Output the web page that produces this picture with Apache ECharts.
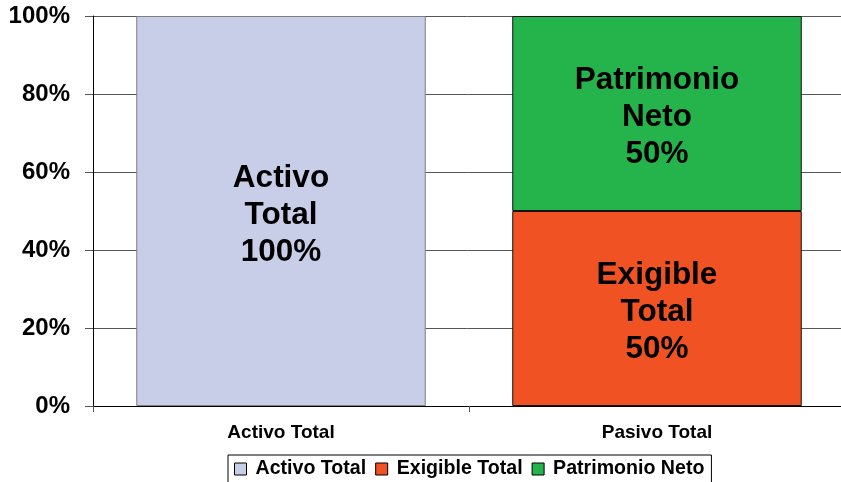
<!DOCTYPE html>
<html>
<head>
<meta charset="utf-8">
<script src="https://cdn.jsdelivr.net/npm/echarts@6/dist/echarts.min.js"></script>
<style>
  html, body { margin: 0; padding: 0; background: #fff; }
  #chart { width: 841px; height: 482px; }
</style>
</head>
<body>
<div id="chart"></div>
<script>
const categories = ['Activo Total', 'Pasivo Total'];
const seriesNames = ['Activo Total', 'Exigible Total', 'Patrimonio Neto'];
const activoValues = [100, '-'];
const exigibleValues = ['-', 50];
const patrimonioValues = ['-', 50];
// textos dentro de las barras
const barLabels = ['Activo\nTotal', 'Exigible\nTotal', 'Patrimonio\nNeto'];
const colors = ['#C8CDE8', '#F05224', '#25B34B'];
const borders = ['#7f7f7f', '#111', '#111'];

const chart = echarts.init(document.getElementById('chart'));
const font = 'Liberation Sans, Arial, sans-serif';

function makeSeries(i, data) {
  return {
    name: seriesNames[i],
    type: 'bar',
    stack: 'total',
    data: data,
    barCategoryGap: '23%',
    itemStyle: { color: colors[i], borderColor: borders[i], borderWidth: 1 },
    label: {
      show: true,
      position: 'inside',
      offset: [0, 4],
      formatter: p => barLabels[i] + '\n' + p.value + '%',
      fontFamily: font,
      fontWeight: 'bold',
      fontSize: 31.5,
      lineHeight: 37,
      color: '#000'
    }
  };
}

const option = {
  animation: false,
  textStyle: { fontFamily: font },
  grid: { left: 93, top: 16, height: 390, width: 752, outerBoundsMode: 'none' },
  legend: {
    top: 455,
    left: 228,
    data: seriesNames,
    icon: 'rect',
    itemWidth: 12,
    itemHeight: 12,
    itemGap: 9,
    borderColor: '#000',
    borderWidth: 1,
    padding: [4, 7, 8, 6],
    itemStyle: { borderColor: '#000', borderWidth: 1 },
    textStyle: { fontFamily: font, fontWeight: 'bold', fontSize: 19.6, color: '#000', padding: [0, 0, 0, 4] }
  },
  xAxis: {
    type: 'category',
    data: categories,
    axisLine: { lineStyle: { color: '#000', width: 1 } },
    axisTick: { show: true, length: 6, lineStyle: { color: '#555' } },
    axisLabel: { margin: 17, fontFamily: font, fontWeight: 'bold', fontSize: 19, color: '#000' }
  },
  yAxis: {
    type: 'value',
    min: 0,
    max: 100,
    interval: 20,
    axisLine: { show: true, lineStyle: { color: '#000', width: 1 } },
    axisTick: { show: true, length: 8, lineStyle: { color: '#555' } },
    splitLine: { lineStyle: { color: '#555', width: 1 } },
    axisLabel: {
      formatter: '{value}%',
      margin: 23,
      padding: [3, 0, 0, 0],
      fontFamily: font,
      fontWeight: 'bold',
      fontSize: 24,
      color: '#000'
    }
  },
  series: [
    makeSeries(0, activoValues),
    makeSeries(1, exigibleValues),
    makeSeries(2, patrimonioValues)
  ]
};

chart.setOption(option);
</script>
</body>
</html>
